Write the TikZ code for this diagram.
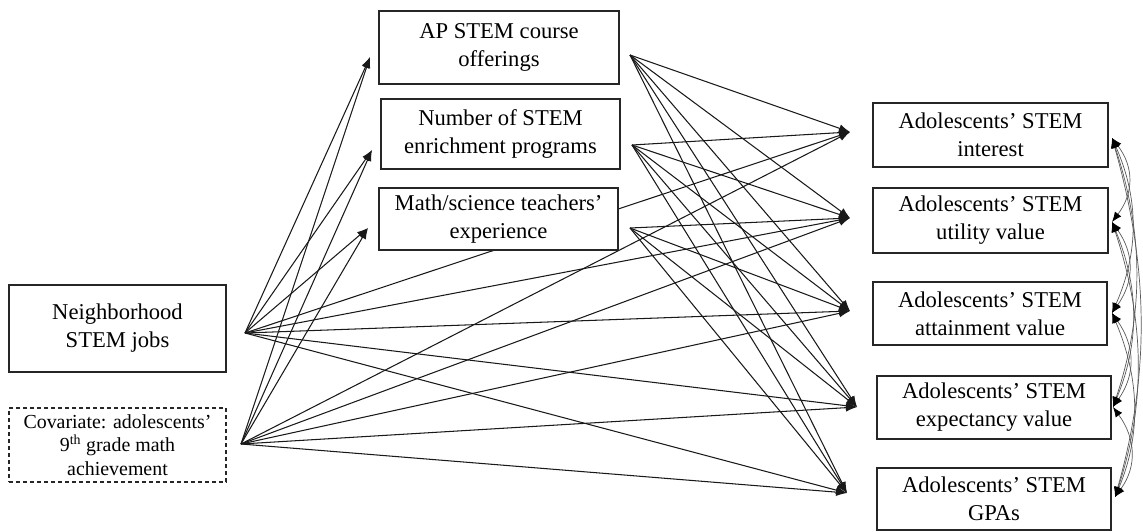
\documentclass[tikz,border=0pt]{standalone}
\usepackage{fontspec}
\setmainfont{Liberation Serif}
\usetikzlibrary{arrows.meta,backgrounds}
\begin{document}
\begin{tikzpicture}[x=1pt,y=-1pt,
  box/.style={draw=black!85,line width=1.2pt,fill=white,align=center,inner sep=0pt,font=\fontsize{22.6}{28}\selectfont},
  link/.style={draw=black!90,line width=1.05pt,-{Latex[length=11pt,width=8pt]}},
  corr/.style={draw=gray!70!black,line width=0.7pt,{Latex[length=10pt,width=8pt,color=black]}-{Latex[length=10pt,width=8pt,color=black]}}]
\useasboundingbox (0,0) rectangle (1143,531);
% boxes
\node[box,minimum width=217pt,minimum height=87pt] (N) at (117.5,328.5) {Neighborhood\\STEM jobs};
\node[box,dash pattern=on 4pt off 3pt,minimum width=217pt,minimum height=74pt,font=\fontsize{19.9}{23.5}\selectfont] (C) at (117.5,445) {Covariate: adolescents’\\9\textsuperscript{th} grade math\\achievement};
\node[box,minimum width=240pt,minimum height=73pt] (AP) at (499,47.5) {AP STEM course\\offerings};
\node[box,minimum width=239pt,minimum height=70pt] (Num) at (500.5,134) {Number of STEM\\enrichment programs};
\node[box,minimum width=239pt,minimum height=62pt] (Math) at (498.5,219) {Math/science teachers’\\experience};
\node[box,minimum width=235pt,minimum height=64pt] (Int) at (990.5,135) {Adolescents’ STEM\\interest};
\node[box,minimum width=235pt,minimum height=65pt] (Util) at (990.5,220.5) {Adolescents’ STEM\\utility value};
\node[box,minimum width=234pt,minimum height=63pt] (Att) at (990,313.5) {Adolescents’ STEM\\attainment value};
\node[box,minimum width=234pt,minimum height=63pt] (Exp) at (994,407.5) {Adolescents’ STEM\\expectancy value};
\node[box,minimum width=234pt,minimum height=62pt] (GPA) at (994,499) {Adolescents’ STEM\\GPAs};
% source and target points
\coordinate (sN) at (245,333);
\coordinate (sC) at (241,444);
\coordinate (sAP) at (630,55);
\coordinate (sNum) at (632,145);
\coordinate (sMath) at (630,228);
\coordinate (tAP) at (370,57);
\coordinate (tNum) at (372,150);
\coordinate (tMath) at (368,228);
\coordinate (tInt) at (850,132);
\coordinate (tUtil) at (850,218);
\coordinate (tAtt) at (850,311);
\coordinate (tExp) at (857,407);
\coordinate (tGPA) at (847,493);
\coordinate (cI) at (1112,138);
\coordinate (cU) at (1112,222);
\coordinate (cA) at (1112,313);
\coordinate (cE) at (1113,407);
\coordinate (cG) at (1115,497);
\begin{scope}[on background layer]
\foreach \s in {sN,sC}{
  \foreach \t in {tAP,tNum,tMath,tInt,tUtil,tAtt,tExp,tGPA}{
    \draw[link] (\s) -- (\t);
  }
}
\foreach \s in {sAP,sNum}{
  \foreach \t in {tInt,tUtil,tAtt,tExp,tGPA}{
    \draw[link] (\s) -- (\t);
  }
}
\foreach \t in {tUtil,tAtt,tExp,tGPA}{
  \draw[link] (sMath) -- (\t);
}
% correlations
\draw[corr] (cI) .. controls +(22,29) and +(22,-29) .. (cU);
\draw[corr] (cI) .. controls +(27,61) and +(27,-61) .. (cA);
\draw[corr] (cI) .. controls +(31.5,94) and +(31.5,-94) .. (cE);
\draw[corr] (cI) .. controls +(36,126) and +(36,-126) .. (cG);
\draw[corr] (cU) .. controls +(22.5,32) and +(22.5,-32) .. (cA);
\draw[corr] (cU) .. controls +(27,65) and +(27,-65) .. (cE);
\draw[corr] (cU) .. controls +(32,96) and +(32,-96) .. (cG);
\draw[corr] (cA) .. controls +(23,33) and +(23,-33) .. (cE);
\draw[corr] (cA) .. controls +(27,64) and +(27,-64) .. (cG);
\draw[corr] (cE) .. controls +(22.5,31) and +(22.5,-31) .. (cG);
\end{scope}
\end{tikzpicture}
\end{document}
